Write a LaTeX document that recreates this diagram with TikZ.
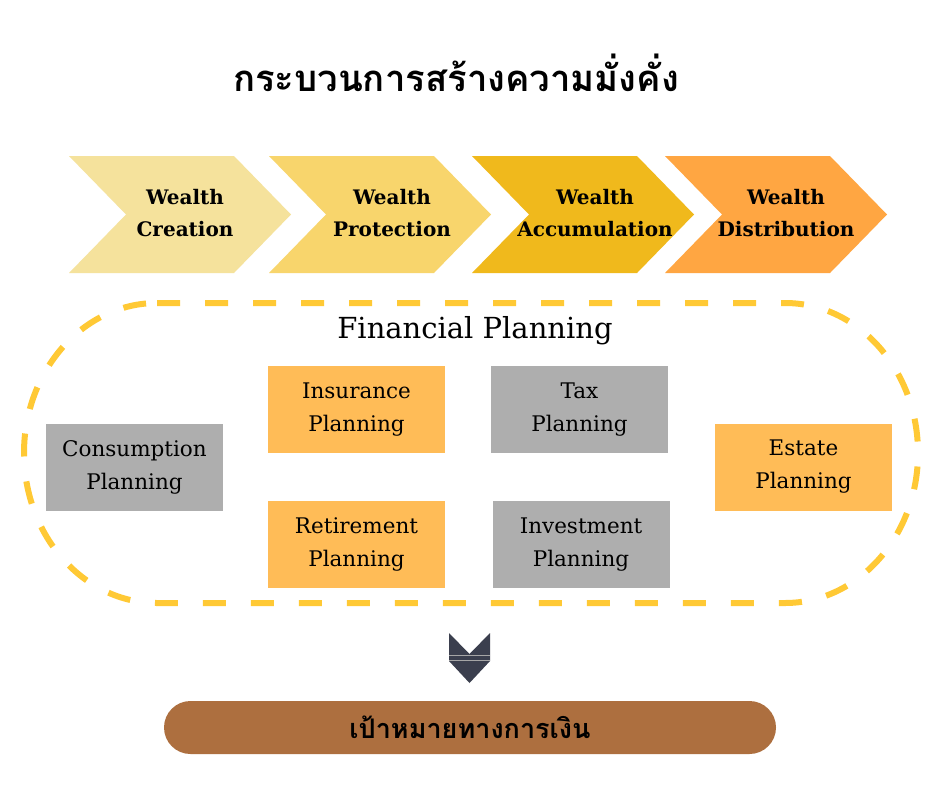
\documentclass[tikz,border=0pt]{standalone}
\usepackage{fontspec}
\setmainfont{DejaVu Serif}
\newfontfamily\thaifont[Script=Thai]{Loma}
\definecolor{chA}{HTML}{F5E29C}
\definecolor{chB}{HTML}{F8D56C}
\definecolor{chC}{HTML}{F0B91C}
\definecolor{chD}{HTML}{FFA642}
\definecolor{boxG}{HTML}{AEAEAE}
\definecolor{boxO}{HTML}{FFBC57}
\definecolor{dashY}{HTML}{FFC935}
\definecolor{arrD}{HTML}{3B3F4E}
\definecolor{pill}{HTML}{AD6F3F}
\begin{document}
\begin{tikzpicture}[x=1pt,y=-1pt,
  chevtext/.style={align=center,font=\bfseries\fontsize{20}{32.5}\selectfont,inner sep=0pt},
  planbox/.style={minimum width=177pt,minimum height=87pt,inner sep=0pt,align=center,font=\fontsize{21.5}{33}\selectfont},
  graybox/.style={planbox,fill=boxG},
  orangebox/.style={planbox,fill=boxO}]
\useasboundingbox (0,0) rectangle (940,788);
\fill[white] (0,0) rectangle (940,788);
% title
\node[font=\thaifont\bfseries\fontsize{36.5}{44}\selectfont] (title) at (456,73) {กระบวนการสร้างความมั่งคั่ง};
% chevrons
\foreach \x/\c in {69/chA,269/chB,472/chC,665/chD}{
  \fill[\c] (\x,156) -- (\x+165,156) -- (\x+222,214.5) -- (\x+165,273) -- (\x,273) -- (\x+57,214.5) -- cycle;
}
\node[chevtext] (c1) at (185,213) {Wealth\\Creation};
\node[chevtext] (c2) at (392,213) {Wealth\\Protection};
\node[chevtext] (c3) at (595,213) {Wealth\\Accumulation};
\node[chevtext] (c4) at (786,213) {Wealth\\Distribution};
% dashed outline
\draw[dashY,line width=6pt,dash pattern=on 23pt off 25pt]
  (157,303) -- (785,303) arc[start angle=-90,end angle=90,x radius=133,y radius=150]
  -- (157,603) arc[start angle=90,end angle=270,x radius=133,y radius=150];
\node[font=\fontsize{29}{34}\selectfont] (fp) at (475,331) {Financial Planning};
% boxes
\node[graybox] (cons) at (134.5,467) {Consumption\\Planning};
\node[orangebox] (ins) at (356.5,409.5) {Insurance\\Planning};
\node[orangebox] (ret) at (356.5,544.5) {Retirement\\Planning};
\node[graybox] (tax) at (579.5,409.5) {Tax\\Planning};
\node[graybox] (inv) at (581,544.5) {Investment\\Planning};
\node[orangebox] (est) at (803.5,467) {Estate\\Planning};
% down arrow
\fill[arrD] (449,633) -- (469.5,654) -- (490,633) -- (490,661) -- (469.5,683) -- (449,661) -- cycle;
\draw[gray!70,line width=0.8pt] (449,655) -- (490,655);
\draw[gray!70,line width=0.8pt] (449,660) -- (490,660);
% goal pill
\node[fill=pill,rounded corners=26.5pt,minimum width=612pt,minimum height=53pt,inner sep=0pt,
  font=\thaifont\bfseries\fontsize{27}{32}\selectfont] (goal) at (470,727.5) {เป้าหมายทางการเงิน};
\end{tikzpicture}
\end{document}
